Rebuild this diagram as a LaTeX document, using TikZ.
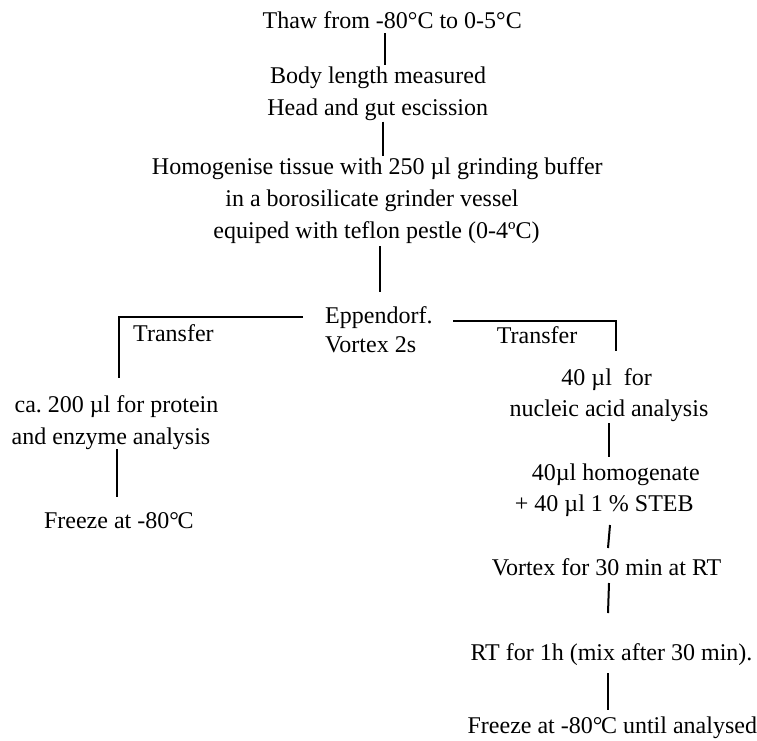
\documentclass[tikz,border=0pt]{standalone}
\usepackage{fontspec}
\setmainfont{Liberation Serif}
\newcommand{\degC}{°\kern-0.06em C}
\begin{document}
\begin{tikzpicture}[x=1pt,y=-1pt,
  txt/.style={inner sep=0pt, font=\fontsize{24}{33}\selectfont, anchor=base},
  txtw/.style={txt, anchor=base west},
  conn/.style={draw=black, line width=2pt}]
\useasboundingbox (0,0) rectangle (757,740);

% main column
\node[txt] (thaw) at (392.2,28) {Thaw from -80°C to 0-5°C};
\node[txt] (body) at (378,83.3) {Body length measured};
\node[txt] (head) at (377.7,115.7) {Head and gut escission};
\node[txt] (homog) at (377.3,174.3) {Homogenise tissue with 250 µl grinding buffer};
\node[txt] (boro) at (372,206.5) {in a borosilicate grinder vessel};
\node[txt] (equip) at (376.5,238.5) {equiped with teflon pestle (0-4ºC)};
\node[txtw] (epp) at (325,323) {Eppendorf.};
\node[txtw] (vort2) at (325,352.7) {Vortex 2s};

% left branch
\node[txtw] (trL) at (133,341.7) {Transfer};
\node[txt] (prot) at (116.5,412) {ca.\ 200 µl for protein};
\node[txt] (enz) at (111,444) {and enzyme analysis};
\node[txt] (frzL) at (118.8,528.3) {Freeze at -80\degC};

% right branch
\node[txtw] (trR) at (496.7,343) {Transfer};
\node[txt] (forty) at (606.7,385) {40 µl\ \ for};
\node[txt] (nucl) at (609,416.7) {nucleic acid analysis};
\node[txt] (hom40) at (615.8,480) {40µl homogenate};
\node[txt] (steb) at (604.3,511.7) {+ 40 µl 1 \% STEB};
\node[txt] (vort) at (606.5,575) {Vortex for 30 min at RT};
\node[txt] (rt) at (611.5,660) {RT for 1h (mix after 30 min).};
\node[txt] (frzR) at (612.3,733.3) {Freeze at -80\degC\ until analysed};

% connectors
\draw[conn] ([xshift=-7.2pt,yshift=-5pt]thaw.base) -- ([xshift=7pt,yshift=18.3pt]body.base);
\draw[conn] ([xshift=5.3pt,yshift=-6pt]head.base) -- ([xshift=5.7pt,yshift=18.3pt]homog.base);
\draw[conn] ([xshift=3.5pt,yshift=-7.5pt]equip.base) -- ([xshift=55pt,yshift=31pt]epp.base west);
\draw[conn] ([xshift=-22pt,yshift=6pt]epp.base west) -| ([xshift=2.5pt,yshift=34pt]prot.base);
\draw[conn] ([xshift=128pt,yshift=2pt]epp.base west) -| ([xshift=9.3pt,yshift=34pt]forty.base);
\draw[conn] ([xshift=6pt,yshift=-5.3pt]enz.base) -- ([xshift=-1.8pt,yshift=31.6pt]frzL.base);
\draw[conn] ([xshift=0pt,yshift=-6.3pt]nucl.base) -- ([xshift=-6.8pt,yshift=23pt]hom40.base);
\draw[conn] ([xshift=5.7pt,yshift=-13.3pt]steb.base) -- ([xshift=1.5pt,yshift=27pt]vort.base);
\draw[conn] ([xshift=2.5pt,yshift=-8pt]vort.base) -- ([xshift=-3.5pt,yshift=47pt]rt.base);
\draw[conn] ([xshift=-3.5pt,yshift=-13pt]rt.base) -- ([xshift=-4.3pt,yshift=23.3pt]frzR.base);
\end{tikzpicture}
\end{document}
